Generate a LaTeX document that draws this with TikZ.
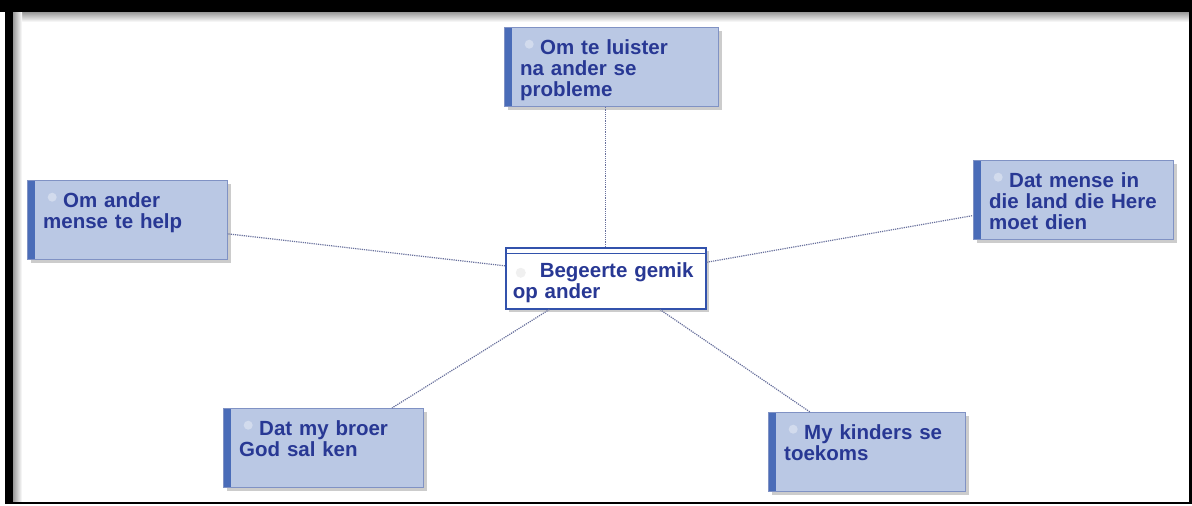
\documentclass[tikz,border=0pt]{standalone}
\usepackage{fontspec}
\setmainfont{Liberation Sans}
\usetikzlibrary{positioning,calc,shadows}

\definecolor{ideafill}{RGB}{186,200,228}
\definecolor{ideabar}{RGB}{74,108,184}
\definecolor{ideatext}{RGB}{40,56,148}
\definecolor{idealine}{RGB}{128,146,196}
\definecolor{hubline}{RGB}{50,82,172}
\definecolor{linkgray}{RGB}{104,112,156}

\tikzset{
    idea/.style={draw=idealine, fill=ideafill, anchor=north west, text width=#1,
        inner xsep=16pt, inner ysep=0pt, text height=27pt, text depth=52pt, align=left,
        font=\fontsize{20.5}{21}\selectfont\bfseries, text=ideatext,
        drop shadow={shadow xshift=3.5pt, shadow yshift=-3.5pt, opacity=.4},
        path picture={
            \fill[ideabar] (path picture bounding box.north west) rectangle ([xshift=8pt]path picture bounding box.south west);
            \fill[white, opacity=.35] ([xshift=25pt, yshift=-17pt]path picture bounding box.north west) circle (4.5pt);
        }},
    hub/.style={draw=hubline, line width=1.5pt, fill=white, anchor=north west, text width=186pt,
        inner xsep=7pt, inner ysep=0pt, text height=30pt, text depth=31pt, align=left,
        font=\fontsize{20.5}{21}\selectfont\bfseries, text=ideatext,
        drop shadow={shadow xshift=3.5pt, shadow yshift=-3.5pt, opacity=.4},
        path picture={
            \draw[hubline, line width=1.3pt] ([yshift=-6pt]path picture bounding box.north west) -- ([yshift=-6pt]path picture bounding box.north east);
            \fill[black!6] ([xshift=15pt, yshift=-25pt]path picture bounding box.north west) circle (5pt);
        }},
    link/.style={densely dotted, line width=1.2pt, color=linkgray},
}

\begin{document}
\begin{tikzpicture}[x=1pt, y=-1pt]
        \useasboundingbox (0,0) rectangle (1192,506);

        % frame
        \shade[top color=black!40, bottom color=white] (13,12) rectangle (1189,22);
        \shade[left color=black!40, right color=white] (13,12) rectangle (22,502);
        \fill[black] (0,0) rectangle (1192,12);
        \fill[black] (5,0) rectangle (13,504);
        \fill[black] (1189,0) rectangle (1192,504);
        \fill[black] (5,502) rectangle (1192,504);

        \node (begeerte) [hub] at (505,247) {\hspace*{27pt}Begeerte gemik\\op ander};

        \node (luister) [idea=182pt] at (504,27) {\hspace*{20pt}Om te luister\\na ander se\\probleme};
        \node (help) [idea=168pt] at (27,180) {\hspace*{20pt}Om ander\\mense te help};
        \node (here) [idea=168pt] at (973,160) {\hspace*{20pt}Dat mense in\\die land die Here\\moet dien};
        \node (broer) [idea=168pt] at (223,408) {\hspace*{20pt}Dat my broer\\God sal ken};
        \node (kinders) [idea=165pt] at (768,412) {\hspace*{20pt}My kinders se\\toekoms};

        \draw[link] (begeerte.north) -- (begeerte.north |- luister.south);
        \draw[link] (begeerte.173) -- (help.-8);
        \draw[link] (begeerte.9) -- (here.189);
        \draw[link] (begeerte.209) -- (broer.30);
        \draw[link] (begeerte.-30) -- (kinders.145);
    \end{tikzpicture}
\end{document}
